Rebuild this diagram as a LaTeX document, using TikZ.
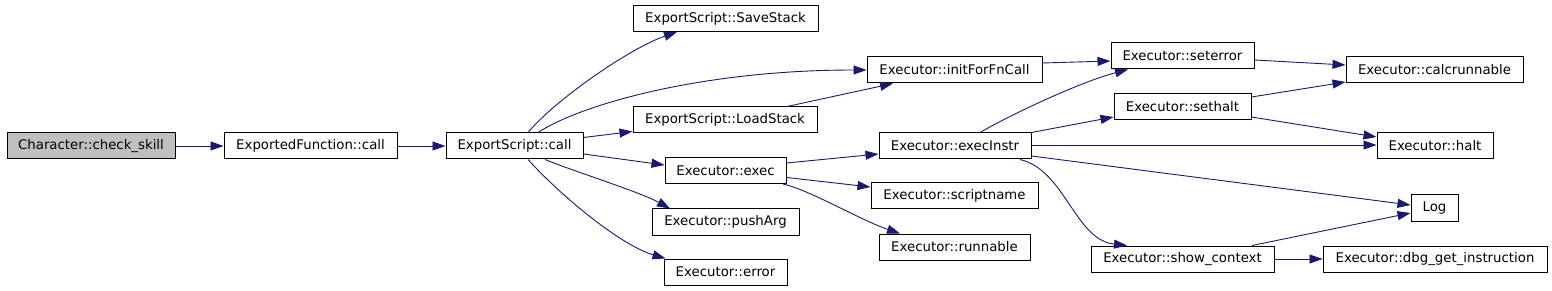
\documentclass[tikz,border=0pt]{standalone}
\usepackage{fontspec}
\setmainfont{DejaVu Sans}
\usepackage{tikz}
\usetikzlibrary{arrows.meta}
\definecolor{graphEdge}{HTML}{191970}
\definecolor{graphRoot}{HTML}{BFBFBF}

\begin{document}
\begin{tikzpicture}[
    x=1pt, y=-1pt,
    every node/.style={font=\fontsize{13.3}{16}\selectfont},
    func/.style={draw=black, line width=1pt, fill=white, inner sep=0pt, minimum height=26pt},
    root/.style={func, fill=graphRoot},
    call/.style={-{Triangle[length=13pt, width=9pt]}, line width=0.9pt, color=graphEdge}
  ]
    \useasboundingbox (0,0) rectangle (1552,291);

    % columns from left to right
    \node[root, minimum width=168pt] (checkskill) at (91,146) {Character::check\_skill};
    \node[func, minimum width=173pt] (efcall) at (310.5,146) {ExportedFunction::call};
    \node[func, minimum width=137pt] (escall) at (514.5,146) {ExportScript::call};

    \node[func, minimum width=185pt] (savestack) at (725.5,18.5) {ExportScript::SaveStack};
    \node[func, minimum width=184pt] (loadstack) at (725,120) {ExportScript::LoadStack};
    \node[func, minimum width=121pt] (exec) at (725.5,170.5) {Executor::exec};
    \node[func, minimum width=147pt] (pusharg) at (725.5,222) {Executor::pushArg};
    \node[func, minimum width=123pt] (error) at (725.5,272) {Executor::error};

    \node[func, minimum width=175pt] (initfn) at (954.5,70) {Executor::initForFnCall};
    \node[func, minimum width=152pt] (execinstr) at (955,146) {Executor::execInstr};
    \node[func, minimum width=167pt] (scriptname) at (954.5,196) {Executor::scriptname};
    \node[func, minimum width=151pt] (runnable) at (954.5,247) {Executor::runnable};

    \node[func, minimum width=143pt] (seterror) at (1182.5,56) {Executor::seterror};
    \node[func, minimum width=137pt] (sethalt) at (1182.5,106.5) {Executor::sethalt};
    \node[func, minimum width=183pt] (showctx) at (1182.5,259) {Executor::show\_context};

    \node[func, minimum width=177pt] (calcrun) at (1434.5,69.5) {Executor::calcrunnable};
    \node[func, minimum width=116pt] (halt) at (1435,146) {Executor::halt};
    \node[func, minimum width=47pt] (log) at (1434.5,208) {Log};
    \node[func, minimum width=224pt] (dbg) at (1435,259) {Executor::dbg\_get\_instruction};

    % calls
    \draw[call] (checkskill.east) -- (efcall.west);
    \draw[call] (efcall.east) -- (escall.west);
    \draw[call] ([xshift=13.5pt]escall.north) .. controls (555,100) and (630,48) .. ([xshift=-48.5pt]savestack.south);
    \draw[call] ([xshift=23.5pt]escall.north) .. controls (580,105) and (700,70) .. (initfn.west);
    \draw[call] ([yshift=8.5pt]escall.east) -- ([yshift=-11.5pt]loadstack.west);
    \draw[call] ([xshift=62pt]loadstack.north) -- ([xshift=-61.5pt]initfn.south);
    \draw[call] ([yshift=-8pt]escall.east) -- ([yshift=5.5pt]exec.west);
    \draw[call] ([xshift=30.5pt]escall.south) .. controls (570,170) and (640,192) .. ([xshift=-55.5pt]pusharg.north);
    \draw[call] ([xshift=13.5pt]escall.south) .. controls (560,195) and (620,245) .. ([xshift=-60pt]error.north);

    \draw[call] ([yshift=7.5pt]exec.east) -- ([yshift=-8pt]execinstr.west);
    \draw[call] ([yshift=-7pt]exec.east) -- ([yshift=9pt]scriptname.west);
    \draw[call] ([xshift=57.5pt]exec.south) .. controls (810,190) and (860,220) .. ([xshift=-54.5pt]runnable.north);

    \draw[call] ([yshift=7pt]initfn.east) -- ([yshift=-5pt]seterror.west);
    \draw[call] ([xshift=25pt]execinstr.north) .. controls (1010,115) and (1080,82) .. ([xshift=-54.5pt]seterror.south);
    \draw[call] (execinstr.north east) -- ([yshift=-10.5pt]sethalt.west);
    \draw[call] ([yshift=1pt]execinstr.east) -- ([yshift=1pt]halt.west);
    \draw[call] ([yshift=-10pt]execinstr.east) -- ([yshift=3pt]log.west);
    \draw[call] ([xshift=65pt]execinstr.south) .. controls (1065,170) and (1075,240) .. ([xshift=-55.5pt]showctx.north);

    \draw[call] ([yshift=-4pt]seterror.east) -- ([yshift=4.5pt]calcrun.west);
    \draw[call] ([yshift=9.5pt]sethalt.east) -- ([yshift=-12.5pt]calcrun.west);
    \draw[call] ([yshift=-10.5pt]sethalt.east) -- ([yshift=9pt]halt.west);
    \draw[call] ([xshift=69.5pt]showctx.north) -- ([yshift=-5pt]log.west);
    \draw[call] (showctx.east) -- (dbg.west);
\end{tikzpicture}
\end{document}
